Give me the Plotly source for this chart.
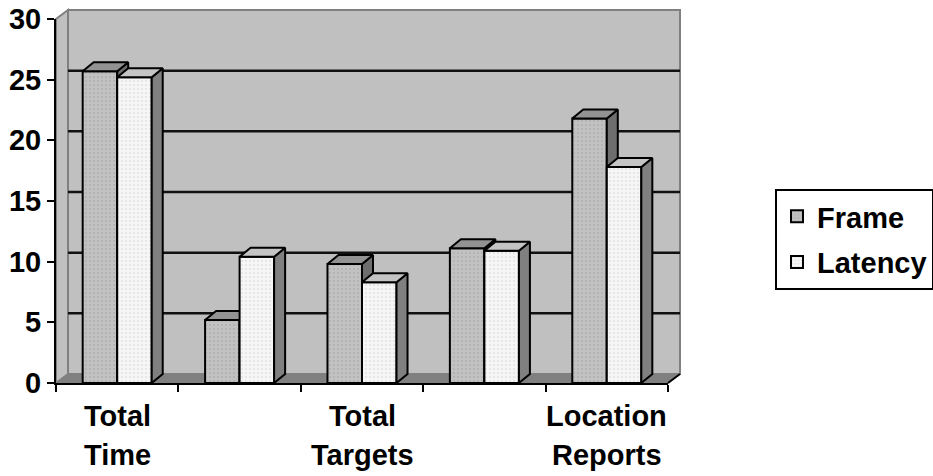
import plotly.graph_objects as go

# ---- data ----
categories = ["Total Time", "", "Total Targets", "", "Location Reports"]
frame_values = [25.7, 5.2, 9.8, 11.1, 21.8]
latency_values = [25.2, 10.4, 8.3, 10.9, 17.8]
y_ticks = [0, 5, 10, 15, 20, 25, 30]
series_names = ["Frame", "Latency"]

# ---- geometry / style ----
W_PX, H_PX = 612, 364          # front plot plane size in px
L, R, T, B = 56, 265, 19, 93
YMAX = 30
NCAT = len(categories)
PX_PER_X = W_PX / NCAT
PX_PER_Y = H_PX / YMAX
DX_PX, DY_PX = 12, 9           # 3-D depth offset of walls
BDX_PX, BDY_PX = 11, 9         # 3-D depth offset of bars
dxp, dyp = DX_PX / W_PX, DY_PX / H_PX
bdx, bdy = BDX_PX / PX_PER_X, BDY_PX / PX_PER_Y
BAR_W = 0.282
FONT = "Liberation Sans, Arial, sans-serif"
FS = 29

styles = {
    "Frame": dict(front="#c2c2c2", dots="#a6a6a6", top="#929292", side="#6e6e6e"),
    "Latency": dict(front="#f7f7f7", dots="#d6d6d6", top="#c4c4c4", side="#808080"),
}

fig = go.Figure()

def add_series(name, values, offset, xa, ya, group):
    st = styles[name]
    xs = list(range(NCAT))
    fig.add_trace(go.Bar(
        x=xs, y=values, name=name, width=BAR_W, offset=offset,
        xaxis=xa, yaxis=ya, legendgroup=group,
        marker=dict(color=st["front"], line=dict(color="black", width=2),
                    pattern=dict(shape=".", fgcolor=st["dots"], size=4,
                                 solidity=0.3, fillmode="overlay")),
        hoverinfo="skip",
    ))
    sx, sy, tx, ty = [], [], [], []
    for i, v in enumerate(values):
        x0 = i + offset
        x1 = x0 + BAR_W
        sx += [x1, x1, x1 + bdx, x1 + bdx, x1, None]
        sy += [0, v, v + bdy, bdy, 0, None]
        tx += [x0, x1, x1 + bdx, x0 + bdx, x0, None]
        ty += [v, v, v + bdy, v + bdy, v, None]
    fig.add_trace(go.Scatter(x=sx, y=sy, mode="lines", fill="toself",
                             fillcolor=st["side"], line=dict(color="black", width=2),
                             xaxis=xa, yaxis=ya, showlegend=False, hoverinfo="skip"))
    fig.add_trace(go.Scatter(x=tx, y=ty, mode="lines", fill="toself",
                             fillcolor=st["top"], line=dict(color="black", width=2),
                             xaxis=xa, yaxis=ya, showlegend=False, hoverinfo="skip"))

add_series("Frame", frame_values, -BAR_W, "x", "y", "g1")
add_series("Latency", latency_values, 0.0, "x2", "y2", "g2")

# ---- walls, floor, gridlines (paper coords derived from geometry) ----
shapes = []
shapes.append(dict(type="rect", xref="paper", yref="paper", x0=dxp, x1=1 + dxp,
                   y0=dyp, y1=1 + dyp, fillcolor="#c0c0c0",
                   line=dict(color="#808080", width=2), layer="below"))
shapes.append(dict(type="path", xref="paper", yref="paper",
                   path=f"M0,0 L0,1 L{dxp},{1 + dyp} L{dxp},{dyp} Z",
                   fillcolor="#c0c0c0", line=dict(color="#808080", width=2), layer="below"))
shapes.append(dict(type="path", xref="paper", yref="paper",
                   path=f"M0,0 L1,0 L{1 + dxp},{dyp} L{dxp},{dyp} Z",
                   fillcolor="#808080", line=dict(color="#808080", width=1), layer="below"))
for v in y_ticks[1:-1]:
    yy = v / YMAX + dyp
    shapes.append(dict(type="line", xref="paper", yref="paper", x0=dxp, x1=1 + dxp,
                       y0=yy, y1=yy, line=dict(color="#111111", width=2.5), layer="below"))
shapes.append(dict(type="line", xref="paper", yref="paper", x0=1, x1=1 + dxp,
                   y0=0, y1=dyp, line=dict(color="black", width=2), layer="above"))

# ---- category labels (two lines) ----
annotations = []
for i, c in enumerate(categories):
    if not c:
        continue
    for j, w in enumerate(c.split(" ")):
        annotations.append(dict(
            x=i, xref="x", y=-(33 + 39 * j) / H_PX, yref="paper",
            text=w, showarrow=False, xanchor="center", yanchor="middle",
            font=dict(family=FONT, size=FS, color="black", weight="bold")))

xr = [-0.5, NCAT - 0.5]
fig.update_layout(
    width=933, height=476,
    margin=dict(l=L, r=R, t=T, b=B, pad=0, autoexpand=False),
    paper_bgcolor="white", plot_bgcolor="rgba(0,0,0,0)",
    barmode="overlay",
    shapes=shapes, annotations=annotations,
    xaxis=dict(range=xr, tickvals=[k - 0.5 for k in range(NCAT + 1)],
               ticktext=[""] * (NCAT + 1), ticks="outside", ticklen=7,
               tickwidth=2, tickcolor="black", showline=True, linecolor="black",
               linewidth=2, showgrid=False, zeroline=False, fixedrange=True,
               automargin=False),
    yaxis=dict(range=[0, YMAX], tickvals=y_ticks, ticks="outside", ticklen=7,
               tickwidth=2, tickcolor="black", showline=True, linecolor="black",
               linewidth=2, showgrid=False, zeroline=False, fixedrange=True,
               automargin=False,
               tickfont=dict(family=FONT, size=FS, color="black", weight="bold")),
    xaxis2=dict(range=xr, overlaying="x", anchor="y2", visible=False, fixedrange=True),
    yaxis2=dict(range=[0, YMAX], overlaying="y", anchor="x2", visible=False, fixedrange=True),
    legend=dict(x=(775 - L) / W_PX, y=(383 - 189) / H_PX, xanchor="left", yanchor="top",
                bordercolor="black", borderwidth=2, bgcolor="white",
                traceorder="grouped", tracegroupgap=5,
                font=dict(family=FONT, size=FS, color="black", weight="bold")),
    showlegend=True,
)

fig.write_html("out.html")
